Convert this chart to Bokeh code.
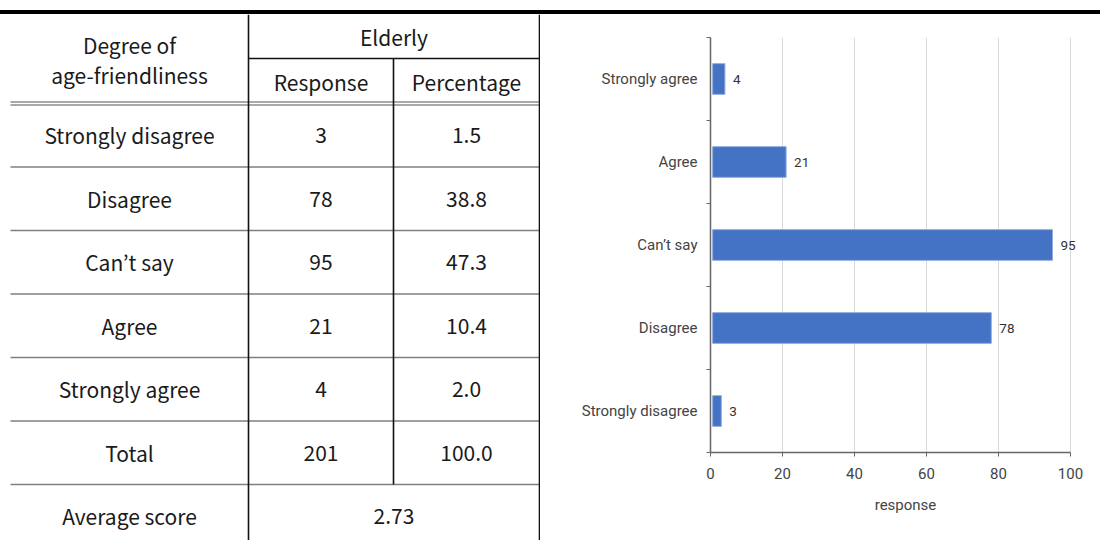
from bokeh.plotting import figure
from bokeh.models import Range1d, FixedTicker, Div, ColumnDataSource
from bokeh.layouts import row, column
from bokeh.embed import file_html
from bokeh.resources import INLINE
from bokeh.core.properties import value

# ---------------- data ----------------
categories = ["Strongly disagree", "Disagree", "Can\u2019t say", "Agree", "Strongly agree"]
responses = [3, 78, 95, 21, 4]
percentages = ["1.5", "38.8", "47.3", "10.4", "2.0"]
total_response = "201"
total_percentage = "100.0"
average_score = "2.73"
header_col1 = ["Degree of", "age-friendliness"]
header_group = "Elderly"
header_cols = ["Response", "Percentage"]
x_ticks = [0, 20, 40, 60, 80, 100]
x_title = "response"

TFONT = value("Noto Sans CJK KR")
CFONT = "Roboto"

# ---------------- top rule ----------------
top = Div(text='<div style="width:1100px;height:4px;background:#000;margin-top:10px"></div>',
          width=1100, height=14, margin=0)

# ---------------- table (left) ----------------
H = 526
t = figure(width=540, height=H, x_range=Range1d(0, 540), y_range=Range1d(540, 14),
           output_backend="svg", toolbar_location=None, min_border=0)
t.frame_align = False
t.axis.visible = False
t.grid.visible = False
t.outline_line_color = None

# columns
x0, xc1, xc2, xr = 10, 248, 393, 539
row_top = 103
row_h = 63.5
n_rows = len(categories) + 2  # categories + total + average

ys = [row_top + row_h * (i + 1) for i in range(n_rows - 1)]
t.segment(x0=[x0] * len(ys), x1=[xr] * len(ys), y0=ys, y1=ys, line_color="#7f7f7f", line_width=1.6)
t.segment(x0=[x0, x0], x1=[xr, xr], y0=[101.5, 104.5], y1=[101.5, 104.5], line_color="#555555", line_width=1.2)
t.segment(x0=[xc1], x1=[xr], y0=[58], y1=[58], line_color="#111111", line_width=1.6)
t.segment(x0=[xc1, xc2, xr], x1=[xc1, xc2, xr], y0=[14, 58, 14],
          y1=[540, row_top + row_h * (n_rows - 1), 540], line_color="#111111", line_width=1.6)

cx1 = (x0 + xc1) / 2
cx2 = (xc1 + xc2) / 2
cx3 = (xc2 + xr) / 2
FS = "21px"

hdr = ColumnDataSource(dict(
    x=[cx1, cx1, (xc1 + xr) / 2, cx2, cx3],
    y=[44, 74, 36, 81, 81],
    s=[header_col1[0], header_col1[1], header_group, header_cols[0], header_cols[1]],
))
t.text(x="x", y="y", text="s", source=hdr, text_font=TFONT, text_font_size=FS,
       text_align="center", text_baseline="middle", text_color="#1a1a1a")

col1 = categories + ["Total", "Average score"]
col2 = [str(v) for v in responses] + [total_response]
col3 = percentages + [total_percentage]
ycent = [row_top + row_h * (i + 0.5) for i in range(n_rows)]

body = ColumnDataSource(dict(x=[cx1] * n_rows, y=ycent, s=col1))
t.text(x="x", y="y", text="s", source=body, text_font=TFONT, text_font_size=FS,
       text_align="center", text_baseline="middle", text_color="#1a1a1a")
body2 = ColumnDataSource(dict(
    x=[cx2] * len(col2) + [cx3] * len(col3) + [(xc1 + xr) / 2],
    y=ycent[:len(col2)] + ycent[:len(col3)] + [ycent[-1]],
    s=col2 + col3 + [average_score],
))
t.text(x="x", y="y", text="s", source=body2, text_font=TFONT, text_font_size=FS,
       text_align="center", text_baseline="middle", text_color="#1a1a1a")

# ---------------- bar chart (right) ----------------
idx = list(range(len(categories)))
src = ColumnDataSource(dict(y=idx, v=responses, lab=[str(v) for v in responses]))

W = 560
left_b = 170
x_end = 100 * (W - left_b) / 360.0  # leave room right of 100 for value labels
p = figure(width=W, height=H, x_range=Range1d(0, x_end), y_range=Range1d(-0.5, len(categories) - 0.5),
           output_backend="svg", toolbar_location=None,
           min_border_left=left_b, min_border_right=0, min_border_top=23, min_border_bottom=88)
p.frame_align = False
p.outline_line_color = None
p.ygrid.visible = False
p.xgrid.ticker = FixedTicker(ticks=x_ticks[1:])
p.xgrid.grid_line_color = "#d9d9d9"
p.xgrid.grid_line_width = 1

p.hbar(y="y", left=0.6, right="v", height=0.37, source=src,
       fill_color="#4472C4", line_color="#8FAADC", line_width=1)
p.text(x="v", y="y", text="lab", source=src, x_offset=8, text_baseline="middle",
       text_align="left", text_font=value(CFONT), text_font_size="13.5px", text_color="#333333")

# x axis
p.xaxis.ticker = FixedTicker(ticks=x_ticks)
p.xaxis.bounds = (x_ticks[0], x_ticks[-1])
p.xaxis.axis_label = x_title
p.xaxis.axis_label_text_font = CFONT
p.xaxis.axis_label_text_font_style = "normal"
p.xaxis.axis_label_text_font_size = "15px"
p.xaxis.axis_label_text_color = "#444444"
p.xaxis.axis_label_standoff = 14
p.xaxis.major_label_text_font = CFONT
p.xaxis.major_label_text_font_size = "15px"
p.xaxis.major_label_text_color = "#444444"
p.xaxis.major_label_standoff = 11
p.xaxis.major_tick_out = 4
p.xaxis.major_tick_in = 0
p.xaxis.minor_tick_out = 0
p.xaxis.minor_tick_in = 0
p.xaxis.axis_line_color = "#666666"
p.xaxis.axis_line_width = 1.5
p.xaxis.major_tick_line_color = "#666666"

# y axis: labels at category centres, ticks at boundaries
bounds = [i - 0.5 for i in range(len(categories) + 1)]
p.yaxis.ticker = FixedTicker(ticks=idx, minor_ticks=bounds)
p.yaxis.major_label_overrides = {i: c for i, c in zip(idx, categories)}
p.yaxis.major_label_text_font = CFONT
p.yaxis.major_label_text_font_size = "15px"
p.yaxis.major_label_text_color = "#444444"
p.yaxis.major_label_standoff = 9
p.yaxis.major_tick_out = 0
p.yaxis.major_tick_in = 0
p.yaxis.minor_tick_out = 4
p.yaxis.minor_tick_in = 0
p.yaxis.minor_tick_line_color = "#666666"
p.yaxis.axis_line_color = "#666666"
p.yaxis.axis_line_width = 1.5

layout = column(top, row(t, p, spacing=0), spacing=0)
open("out.html", "w").write(file_html(layout, INLINE))
